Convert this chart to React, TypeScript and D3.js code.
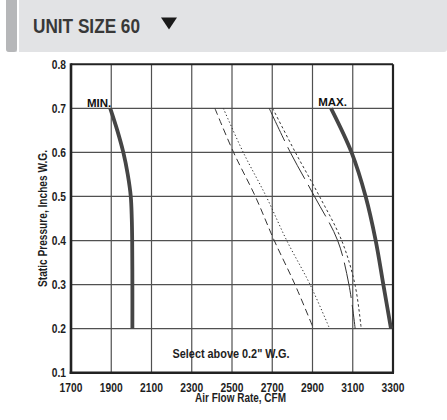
import { useEffect, useRef } from 'react'
import * as d3 from 'd3'

// axis ticks
const cfmTicks = [1700, 1900, 2100, 2300, 2500, 2700, 2900, 3100, 3300]
const pressureTicks = [0.1, 0.2, 0.3, 0.4, 0.5, 0.6, 0.7, 0.8]

// curves (static pressure vs CFM)
const curvePressure = [0.7, 0.6, 0.5, 0.4, 0.3, 0.2]
const lowDashCfm = [2415, 2508, 2616, 2710, 2813, 2905]
const lowDotCfm = [2457, 2556, 2670, 2772, 2888, 2985]
const highDashCfm = [2685, 2790, 2910, 3025, 3081, 3112]
const highDotCfm = [2702, 2815, 2935, 3045, 3111, 3142]
const maxCfm = [2992, 3094, 3164, 3214, 3252, 3290]

const minPressure = [0.7, 0.65, 0.6, 0.55, 0.5, 0.45, 0.4, 0.3, 0.2]
const minCfm = [1895, 1930, 1960, 1982, 1997, 2002, 2004, 2005, 2005]

// no narrow font installed, so squeeze Liberation Sans horizontally
const FONT = '"Liberation Sans", Arial, sans-serif'
const NARROW = 0.82

type Pt = { cfm: number; p: number }

export default function App() {
  const svgRef = useRef<SVGSVGElement>(null)
  const width = 447
  const height = 420
  const margin = { top: 64.3, right: 54, bottom: 47.3, left: 71 }

  useEffect(() => {
    if (!svgRef.current) return
    const root = d3.select(svgRef.current)
    root.selectAll('*').remove()

    const label = (
      parent: d3.Selection<any, unknown, null, undefined>,
      tx: number, ty: number, txt: string, size: number,
      anchor = 'start', fill = '#1e1e1e', rotate = 0, squeeze = NARROW
    ) =>
      parent.append('text')
        .attr('transform', `translate(${tx},${ty}) rotate(${rotate}) scale(${squeeze},1)`)
        .attr('text-anchor', anchor)
        .attr('font-family', FONT).attr('font-weight', 'bold')
        .attr('font-size', size).attr('fill', fill)
        .text(txt)

    // header bar
    root.append('rect').attr('x', 6).attr('y', -4).attr('width', 441).attr('height', 56)
      .attr('rx', 3).attr('fill', '#e2e3e5')
    root.append('rect').attr('x', 6).attr('y', -4).attr('width', 11).attr('height', 56)
      .attr('rx', 3).attr('fill', '#b6b7b9')
    root.append('rect').attr('x', 17).attr('y', 0).attr('width', 2).attr('height', 52)
      .attr('fill', '#ffffff')
    label(root, 33, 33, 'UNIT SIZE 60', 20, 'start', '#383838')
      .attr('textLength', 107 / NARROW).attr('lengthAdjust', 'spacingAndGlyphs')
    root.append('path').attr('d', 'M161,17.5 L177,17.5 L169,29.5 Z').attr('fill', '#1a1a1a')

    const x = d3.scaleLinear().domain([1700, 3300]).range([margin.left, width - margin.right])
    const y = d3.scaleLinear().domain([0.1, 0.8]).range([height - margin.bottom, margin.top])

    const g = root.append('g')

    // grid
    cfmTicks.slice(1, -1).forEach(t => {
      g.append('line').attr('x1', x(t)).attr('x2', x(t))
        .attr('y1', y(0.8)).attr('y2', y(0.1))
        .attr('stroke', '#505050').attr('stroke-width', 1.2)
    })
    pressureTicks.slice(1, -1).forEach(t => {
      g.append('line').attr('x1', x(1700)).attr('x2', x(3300))
        .attr('y1', y(t)).attr('y2', y(t))
        .attr('stroke', '#505050').attr('stroke-width', 1.2)
    })

    // frame
    g.append('line').attr('x1', x(1700)).attr('x2', x(3300)).attr('y1', y(0.8)).attr('y2', y(0.8))
      .attr('stroke', '#222').attr('stroke-width', 2)
    g.append('line').attr('x1', x(3300)).attr('x2', x(3300)).attr('y1', y(0.8)).attr('y2', y(0.1))
      .attr('stroke', '#222').attr('stroke-width', 2.2)
    g.append('line').attr('x1', x(1700)).attr('x2', x(1700)).attr('y1', y(0.8) - 1).attr('y2', y(0.1) + 1.2)
      .attr('stroke', '#222').attr('stroke-width', 2.6)
    g.append('line').attr('x1', x(1700) - 1.3).attr('x2', x(3300) + 1).attr('y1', y(0.1)).attr('y2', y(0.1))
      .attr('stroke', '#222').attr('stroke-width', 2.6)

    // tick labels
    cfmTicks.forEach(t => {
      label(g, x(t), y(0.1) + 19, String(t), 12.5, 'middle')
    })
    pressureTicks.forEach(t => {
      label(g, x(1700) - 5, y(t) + 4.3, t.toFixed(1), 12.5, 'end')
    })

    // axis titles
    label(g, 240.5, 402, 'Air Flow Rate, CFM', 12, 'middle')
      .attr('textLength', 91 / NARROW).attr('lengthAdjust', 'spacingAndGlyphs')
    label(g, 46.5, (y(0.8) + y(0.1)) / 2, 'Static Pressure, Inches W.G.', 12, 'middle', '#1e1e1e', -90)
      .attr('textLength', 137 / NARROW).attr('lengthAdjust', 'spacingAndGlyphs')

    const line = d3.line<Pt>().x(d => x(d.cfm)).y(d => y(d.p)).curve(d3.curveCatmullRom.alpha(0.5))
    const toPts = (cfm: number[], p: number[]) => cfm.map((c, i) => ({ cfm: c, p: p[i] }))

    // fan curves between the limits
    const thin = [
      { cfm: lowDashCfm, dash: '7,4' },
      { cfm: lowDotCfm, dash: '1.3,2.3' },
      { cfm: highDashCfm, dash: '36,7' },
      { cfm: highDotCfm, dash: '2.5,2.5' },
    ]
    thin.forEach(s => {
      g.append('path').datum(toPts(s.cfm, curvePressure)).attr('d', line)
        .attr('fill', 'none').attr('stroke', '#333').attr('stroke-width', 1)
        .attr('stroke-dasharray', s.dash)
    })

    // min / max limits
    g.append('path').datum(toPts(minCfm, minPressure)).attr('d', line)
      .attr('fill', 'none').attr('stroke', '#454545').attr('stroke-width', 3.8)
    g.append('path').datum(toPts(maxCfm, curvePressure)).attr('d', line)
      .attr('fill', 'none').attr('stroke', '#454545').attr('stroke-width', 3.8)

    label(g, x(minCfm[0]) + 1, y(0.7) - 1.5, 'MIN.', 11.5, 'end', '#111', 0, 1)
    label(g, x(maxCfm[0]) + 1.5, y(0.7) - 2.5, 'MAX.', 11.5, 'middle', '#111', 0, 1)

    label(g, 231, 357.5, 'Select above 0.2" W.G.', 13, 'middle')
      .attr('textLength', 117 / NARROW).attr('lengthAdjust', 'spacingAndGlyphs')
  }, [])

  return (
    <svg
      ref={svgRef}
      width={width}
      height={height}
      style={{ position: 'absolute', left: 0, top: 0, background: '#fff' }}
    />
  )
}
